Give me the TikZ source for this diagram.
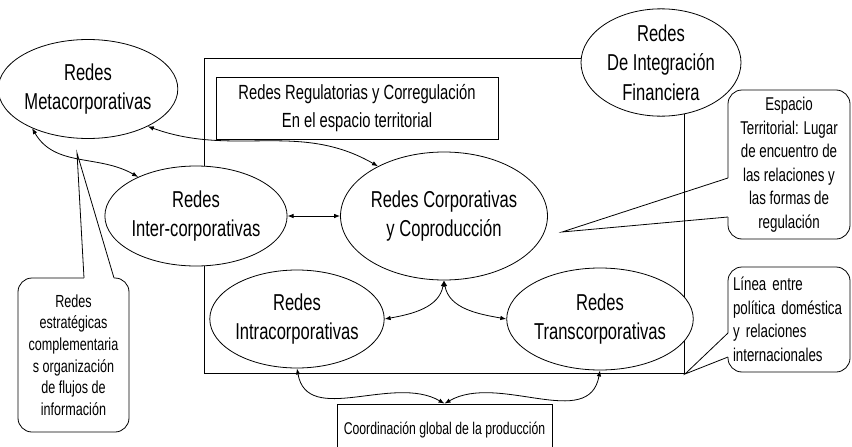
\documentclass[tikz,border=0pt]{standalone}
\usepackage{fontspec}
\setmainfont{Liberation Sans}[FakeStretch=0.72]
\usetikzlibrary{shapes.geometric,arrows.meta,calc}

\tikzset{
  net/.style={ellipse, draw, fill=white, line width=0.8pt, inner sep=0pt,
    align=center, font=\fontsize{23}{29.5}\selectfont},
  callbox/.style={rectangle, rounded corners=14pt, draw, fill=white,
    line width=0.8pt, align=center, inner sep=0pt,
    font=\fontsize{18.5}{23.5}\selectfont},
  plainbox/.style={rectangle, draw, line width=0.8pt, inner sep=0pt, align=center},
  link/.style={<->, line width=0.8pt, >={Latex[length=6pt,width=4.5pt]}},
  ptr/.style={line width=0.8pt},
}

\begin{document}
\begin{tikzpicture}[x=1pt,y=-1pt]
\useasboundingbox (0,0) rectangle (852,447);
\clip (0,0) rectangle (852,447);

% frame of the territorial space
\node[plainbox, minimum width=480pt, minimum height=315pt] (frame) at (444,215.5) {};

% regulatory networks
\node[plainbox, minimum width=282pt, minimum height=62pt,
      font=\fontsize{20.5}{28}\selectfont] (reg) at (357,108)
  {Redes Regulatorias y Corregulación\\En el espacio territorial};

% network ellipses
\node[net, minimum width=160pt, minimum height=99pt] (meta) at (88,89)
  {Redes\\Metacorporativas};
\node[net, minimum width=160pt, minimum height=99pt] (fin) at (661,62.5)
  {Redes\\De Integración\\Financiera};
\node[net, minimum width=162pt, minimum height=100pt] (inter) at (196,216)
  {Redes\\Inter-corporativas};
\node[net, minimum width=168pt, minimum height=128pt] (corp) at (444,216)
  {Redes Corporativas\\y Coproducción};
\node[net, minimum width=162pt, minimum height=98pt] (intra) at (297,319)
  {Redes\\Intracorporativas};
\node[net, minimum width=160pt, minimum height=102pt] (trans) at (600,319)
  {Redes\\Transcorporativas};

% global coordination box (runs past the lower edge)
\node[plainbox, minimum width=215pt, minimum height=52pt,
      font=\fontsize{17}{20}\selectfont] (coord) at (444.5,430)
  {Coordinación global de la producción};

% connectors
\draw[link] (meta.215) to[out=-60,in=150] (inter.146);
\draw[link] (meta.-32) to[out=-20,in=150] (corp.143);
\draw[link] (inter.east) -- (corp.west);
\draw[link] (corp.south) to[out=-100,in=10] (intra.east);
\draw[link] (corp.south) to[out=-80,in=170] (trans.west);
\draw[link] (intra.south) to[out=-80,in=150] (coord.north);
\draw[link] (trans.south) to[out=-100,in=30] (coord.north);

% callout: territorial space
\node[callbox, minimum width=122pt, minimum height=149pt] (esp) at (789,164.5)
  {Espacio\\Territorial: Lugar\\de encuentro de\\las relaciones y\\las formas de\\regulación};
\coordinate (espA) at (728,178);
\coordinate (espB) at (728,217);
\coordinate (espTip) at (562,232);
\fill[white] (726.5,178) rectangle (729.5,217);
\draw[ptr] (espA) -- (espTip) -- (espB);

% callout: strategic networks
\node[callbox, font=\fontsize{17.5}{21.6}\selectfont,
      minimum width=111pt, minimum height=154pt] (estr) at (73.5,355)
  {Redes\\estratégicas\\complementaria\\s organización\\de flujos de\\información};
\coordinate (estA) at (84,278);
\coordinate (estB) at (114,278);
\coordinate (estTip) at (77,153);
\fill[white] (84,276.5) rectangle (114,279.5);
\draw[ptr] (estA) -- (estTip) -- (estB);

% callout: domestic / international line
\node[callbox, align=left, text width=112pt, minimum width=122pt,
      minimum height=105pt] (lin) at (789,319.5)
  {Línea entre\\política doméstica\\y relaciones\\internacionales};
\coordinate (linA) at (728,333);
\coordinate (linB) at (728,357);
\coordinate (linTip) at (685,374);
\fill[white] (726.5,333) rectangle (729.5,357);
\draw[ptr] (linA) -- (linTip) -- (linB);
\end{tikzpicture}
\end{document}
